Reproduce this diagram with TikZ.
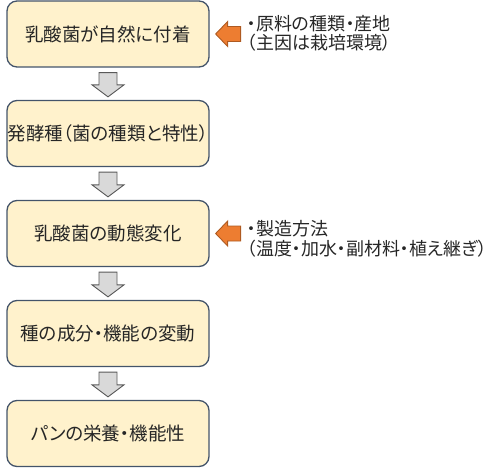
\documentclass[tikz,border=0pt]{standalone}
\usepackage{fontspec}
\setmainfont{Noto Sans CJK JP}[RawFeature=+palt]
\usetikzlibrary{calc}
\definecolor{boxfill}{HTML}{FFF2CC}
\definecolor{boxline}{HTML}{44546A}
\definecolor{garfill}{HTML}{D9D9D9}
\definecolor{garline}{HTML}{595959}
\definecolor{orfill}{HTML}{ED7D31}
\definecolor{orline}{HTML}{AE5A21}
\definecolor{txt}{HTML}{262626}
\tikzset{
  stagebox/.style={draw=boxline, fill=boxfill, line width=1.3pt, rounded corners=10pt,
    minimum width=202pt, minimum height=66pt, inner sep=0pt, text=txt, font=\fontsize{18.5}{22}\selectfont},
  garrow/.style={draw=garline, fill=garfill, line width=0.9pt, line join=miter},
  orarrow/.style={draw=orline, fill=orfill, line width=0.9pt, line join=miter},
  sidenote/.style={anchor=west, align=left, inner sep=0pt, text=txt, font=\fontsize{18}{19.5}\selectfont}
}
\newcommand{\gdownarrow}[2]{%
  \draw[garrow] ($(#1.south)+(-9pt,-5pt)$) -- ($(#1.south)+(9pt,-5pt)$) --
    ($(#2.north)+(9pt,15pt)$) -- ($(#2.north)+(16pt,15pt)$) -- ($(#2.north)+(0pt,3pt)$) --
    ($(#2.north)+(-16pt,15pt)$) -- ($(#2.north)+(-9pt,15pt)$) -- cycle;}
\newcommand{\oleftarrow}[1]{%
  \draw[orarrow] ($(#1.east)+(6pt,0pt)$) -- ($(#1.east)+(18pt,12.5pt)$) -- ($(#1.east)+(18pt,7.5pt)$) --
    ($(#1.east)+(31pt,7.5pt)$) -- ($(#1.east)+(31pt,-7.5pt)$) -- ($(#1.east)+(18pt,-7.5pt)$) --
    ($(#1.east)+(18pt,-12.5pt)$) -- cycle;}
\begin{document}
\begin{tikzpicture}
\useasboundingbox (0,0) rectangle (500pt,-468pt);
\node[stagebox] (b1) at (108pt,-34pt) {乳酸菌が自然に付着};
\node[stagebox] (b2) at (108pt,-133.5pt) {発酵種（菌の種類と特性）};
\node[stagebox] (b3) at (108pt,-233.5pt) {乳酸菌の動態変化};
\node[stagebox] (b4) at (108pt,-333.5pt) {種の成分・機能の変動};
\node[stagebox] (b5) at (108pt,-433.5pt) {パンの栄養・機能性};
\gdownarrow{b1}{b2}
\gdownarrow{b2}{b3}
\gdownarrow{b3}{b4}
\gdownarrow{b4}{b5}
\oleftarrow{b1}
\oleftarrow{b3}
\node[sidenote] (n1) at (247pt,-33.5pt) {・原料の種類・産地\\（主因は栽培環境）};
\node[sidenote] (n3) at (247pt,-239pt) {・製造方法\\（温度・加水・副材料・植え継ぎ）};
\end{tikzpicture}
\end{document}
